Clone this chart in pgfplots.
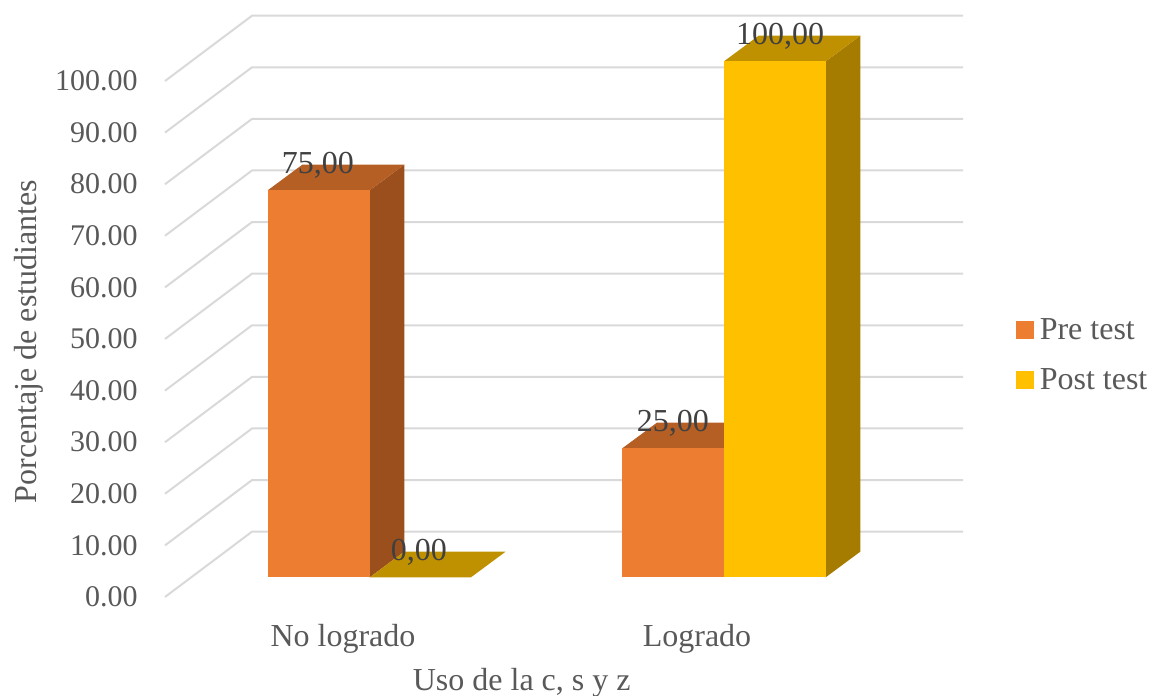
\documentclass[border=0pt]{standalone}
\usepackage{pgfplots}
\pgfplotsset{compat=1.18}
\usepackage{fontspec}
\setmainfont{Liberation Serif}
\definecolor{pre}{HTML}{ED7D31}
\definecolor{pretop}{HTML}{B55F25}
\definecolor{preside}{HTML}{9A4F1C}
\definecolor{post}{HTML}{FFC000}
\definecolor{posttop}{HTML}{BF9000}
\definecolor{postside}{HTML}{A67C00}
\definecolor{gridc}{HTML}{D9D9D9}
\definecolor{txt}{HTML}{595959}
\definecolor{lab}{HTML}{404040}
\begin{document}
\begin{tikzpicture}[x=1pt,y=1pt]
\begin{axis}[
  at={(82.5pt,49.5pt)}, anchor=origin,
  scale only axis, width=399pt, height=290.75pt,
  xmin=165, xmax=963, ymin=0, ymax=112.7,
  clip=false,
  axis line style={draw=none},
  tick style={draw=none},
  xtick={343,697},
  xticklabels={No logrado,Logrado},
  ytick={0,10,...,100},
  /pgf/number format/assume math mode=true,
  yticklabel={\pgfmathprintnumber[fixed,fixed zerofill,precision=2]{\tick}},
  yticklabel style={font=\fontsize{15}{18}\selectfont, text=txt, inner sep=0pt, anchor=east, xshift=-13.5pt},
  xticklabel style={font=\fontsize{16}{19}\selectfont, text=txt, inner sep=0pt, anchor=base, yshift=-25pt},
  xlabel={Uso de la c, s y z},
  ylabel={Porcentaje de estudiantes},
  xlabel style={font=\fontsize{16}{19}\selectfont, text=txt, at={(axis description cs:0.447,-0.148)}, anchor=center, inner sep=0pt},
  ylabel style={font=\fontsize{16}{19}\selectfont, text=txt, at={(axis description cs:-0.1704,0.439)}, anchor=center, inner sep=0pt},
  legend style={draw=none, fill=none, at={(axis description cs:1.0664,0.478)}, anchor=north west,
    font=\fontsize{16}{19}\selectfont, text=txt, inner sep=0pt, outer sep=0pt, row sep=13pt,
    nodes={inner sep=0pt}},
  legend cell align=left,
  legend image code/.code={\fill[#1] (0pt,-3.75pt) rectangle (8.5pt,4.75pt);\path (0pt,0pt) (11.5pt,0pt);},
]
\addlegendimage{pre}\addlegendentry{Pre test}
\addlegendimage{post}\addlegendentry{Post test}
% wall gridlines
\addplot[gridc, line width=1pt, forget plot] coordinates {(165,0)(252,12.66)(963,12.66)};
\addplot[gridc, line width=1pt, forget plot] coordinates {(165,10)(252,22.66)(963,22.66)};
\addplot[gridc, line width=1pt, forget plot] coordinates {(165,20)(252,32.66)(963,32.66)};
\addplot[gridc, line width=1pt, forget plot] coordinates {(165,30)(252,42.66)(963,42.66)};
\addplot[gridc, line width=1pt, forget plot] coordinates {(165,40)(252,52.66)(963,52.66)};
\addplot[gridc, line width=1pt, forget plot] coordinates {(165,50)(252,62.66)(963,62.66)};
\addplot[gridc, line width=1pt, forget plot] coordinates {(165,60)(252,72.66)(963,72.66)};
\addplot[gridc, line width=1pt, forget plot] coordinates {(165,70)(252,82.66)(963,82.66)};
\addplot[gridc, line width=1pt, forget plot] coordinates {(165,80)(252,92.66)(963,92.66)};
\addplot[gridc, line width=1pt, forget plot] coordinates {(165,90)(252,102.66)(963,102.66)};
\addplot[gridc, line width=1pt, forget plot] coordinates {(165,100)(252,112.66)(963,112.66)};
% No logrado, Pre test = 75
\addplot[fill=preside, draw=none, yshift=9.85pt, forget plot] coordinates {(369.7,0)(404.4,4.98)(404.4,79.98)(369.7,75)} -- cycle;
\addplot[fill=pretop, draw=none, yshift=9.85pt, forget plot] coordinates {(267.7,75)(302.4,79.98)(404.4,79.98)(369.7,75)} -- cycle;
\addplot[fill=pre, draw=none, yshift=9.85pt, forget plot] coordinates {(267.7,0)(369.7,0)(369.7,75)(267.7,75)} -- cycle;
% No logrado, Post test = 0
\addplot[fill=posttop, draw=none, yshift=9.85pt, forget plot] coordinates {(369.7,0)(404.4,4.98)(505.7,4.98)(471,0)} -- cycle;
% Logrado, Pre test = 25
\addplot[fill=preside, draw=none, yshift=9.85pt, forget plot] coordinates {(724,0)(758.7,4.98)(758.7,29.98)(724,25)} -- cycle;
\addplot[fill=pretop, draw=none, yshift=9.85pt, forget plot] coordinates {(622.3,25)(657,29.98)(758.7,29.98)(724,25)} -- cycle;
\addplot[fill=pre, draw=none, yshift=9.85pt, forget plot] coordinates {(622.3,0)(724,0)(724,25)(622.3,25)} -- cycle;
% Logrado, Post test = 100
\addplot[fill=postside, draw=none, yshift=9.85pt, forget plot] coordinates {(825.7,0)(860.4,4.98)(860.4,104.98)(825.7,100)} -- cycle;
\addplot[fill=posttop, draw=none, yshift=9.85pt, forget plot] coordinates {(724,100)(758.7,104.98)(860.4,104.98)(825.7,100)} -- cycle;
\addplot[fill=post, draw=none, yshift=9.85pt, forget plot] coordinates {(724,0)(825.7,0)(825.7,100)(724,100)} -- cycle;
% value labels
\addplot[draw=none, mark=none, forget plot, point meta=explicit symbolic,
  nodes near coords, nodes near coords align={center},
  every node near coord/.append style={font=\fontsize{16}{19}\selectfont, text=lab, anchor=center, inner sep=0pt, yshift=22.35pt}]
  coordinates {(318,75)[75,00] (419,0)[0,00] (673,25)[25,00] (780,100)[100,00]};
\end{axis}
\pgfresetboundingbox
\path[use as bounding box] (0,0) rectangle (576.5pt,348pt);
\end{tikzpicture}
\end{document}
